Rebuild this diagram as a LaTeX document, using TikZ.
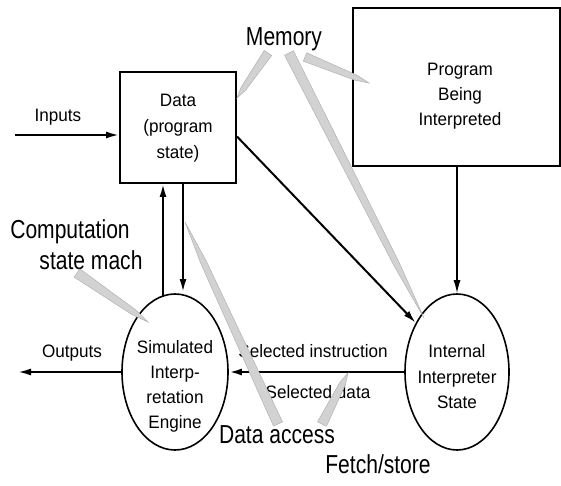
\documentclass[tikz,border=0pt]{standalone}
\usepackage{fontspec}
\setmainfont[FakeStretch=0.95]{Liberation Sans}
\newfontfamily\bigfont[FakeStretch=0.81]{Liberation Sans}
\usetikzlibrary{shapes.geometric,arrows.meta,calc}
\newcommand\callout[3]{%
  \path ($(#1)!0.8!(#2)$) coordinate (cmid);
  \filldraw[wedge] ($(#1)!#3!90:(#2)$) -- ($(cmid)!0.6*#3!90:(#2)$) -- (#2)
    -- ($(cmid)!0.6*#3!-90:(#2)$) -- ($(#1)!#3!-90:(#2)$) -- cycle;}
\begin{document}
\begin{tikzpicture}[x=1pt,y=-1pt,
  inner/.style={align=center, inner sep=0pt},
  lbl/.style={font=\fontsize{18}{26}\selectfont, inner sep=0pt, anchor=base},
  bigtext/.style={font=\bigfont\fontsize{26}{31}\selectfont, inner sep=0pt, anchor=base},
  boxst/.style={draw, line width=2pt, inner sep=0pt},
  ell/.style={draw, ellipse, line width=1.6pt, inner sep=0pt},
  conn/.style={line width=2pt, -{Latex[length=13pt,width=7pt]}},
  thinconn/.style={line width=1.3pt, -{Latex[length=13pt,width=7pt]}},
  wedge/.style={fill=gray!35, draw=gray!60, line width=0.5pt}]
\useasboundingbox (0,0) rectangle (561,486);

% boxes and ellipses
\node[boxst, minimum width=116pt, minimum height=111pt] (data) at (178,127.5) {};
\node[boxst, minimum width=207pt, minimum height=158pt] (prog) at (456,87) {};
\node[ell, minimum width=106pt, minimum height=156pt] (sim) at (175,372) {};
\node[ell, minimum width=104pt, minimum height=156pt] (int) at (457,372) {};

% texts inside
\node[inner, font=\fontsize{18}{26}\selectfont] (datat) at (178,128) {Data\\(program\\state)};
\node[inner, font=\fontsize{18}{25}\selectfont] (progt) at (460,96) {Program\\Being\\Interpreted};
\node[inner, font=\fontsize{18}{25}\selectfont] (simt) at (175,386) {Simulated\\Interp-\\retation\\Engine};
\node[inner, font=\fontsize{18}{25.5}\selectfont] (intt) at (457,377) {Internal\\Interpreter\\State};

% labels
\node[lbl] (inputs) at (58,122) {Inputs};
\node[lbl] (outputs) at (72,357) {Outputs};
\node[lbl] (selins) at (313,357) {Selected instruction};
\node[lbl] (seldat) at (318,398) {Selected data};
\node[bigtext] (memory) at (284,46) {Memory};
\node[bigtext] (comp1) at (70,238) {Computation};
\node[bigtext] (comp2) at (91,269) {state mach};
\node[bigtext] (daccess) at (277,443) {Data access};
\node[bigtext] (fetch) at (378,473) {Fetch/store};

% connectors
\coordinate (inpt) at (15,135);
\draw[conn] (inpt) -- (inpt -| data.west);
\coordinate (upx) at (163,297);
\draw[conn] (upx) -- (upx |- data.south);
\coordinate (dnx) at (183,292);
\draw[conn] (dnx |- data.south) -- (dnx);
\draw[conn] ($(data.east)+(0,9)$) -- (int.130);
\draw[thinconn] (prog.south -| int.north) -- (int.north);
\draw[line width=2.4pt, -{Latex[length=13pt,width=7pt]}] (int.west) -- (sim.east);
\coordinate (outc) at (18,372);
\draw[conn] (sim.west) -- (outc);

% callout wedges
\coordinate (m1) at (268,53);  \coordinate (m1t) at (237,98);
\coordinate (m2) at (305,57);  \coordinate (m2t) at (369,83);
\coordinate (m3) at (289,53);  \coordinate (m3t) at (424,318);
\coordinate (cb) at (77,273);  \coordinate (ct) at (148,322);
\coordinate (db) at (278,424); \coordinate (dt) at (185,222);
\coordinate (fb) at (322,424); \coordinate (ft) at (348,373);
\callout{m1}{m1t}{4.5pt}
\callout{m2}{m2t}{4.5pt}
\callout{m3}{m3t}{5pt}
\callout{cb}{ct}{5pt}
\callout{db}{dt}{5pt}
\callout{fb}{ft}{5pt}
\end{tikzpicture}
\end{document}
